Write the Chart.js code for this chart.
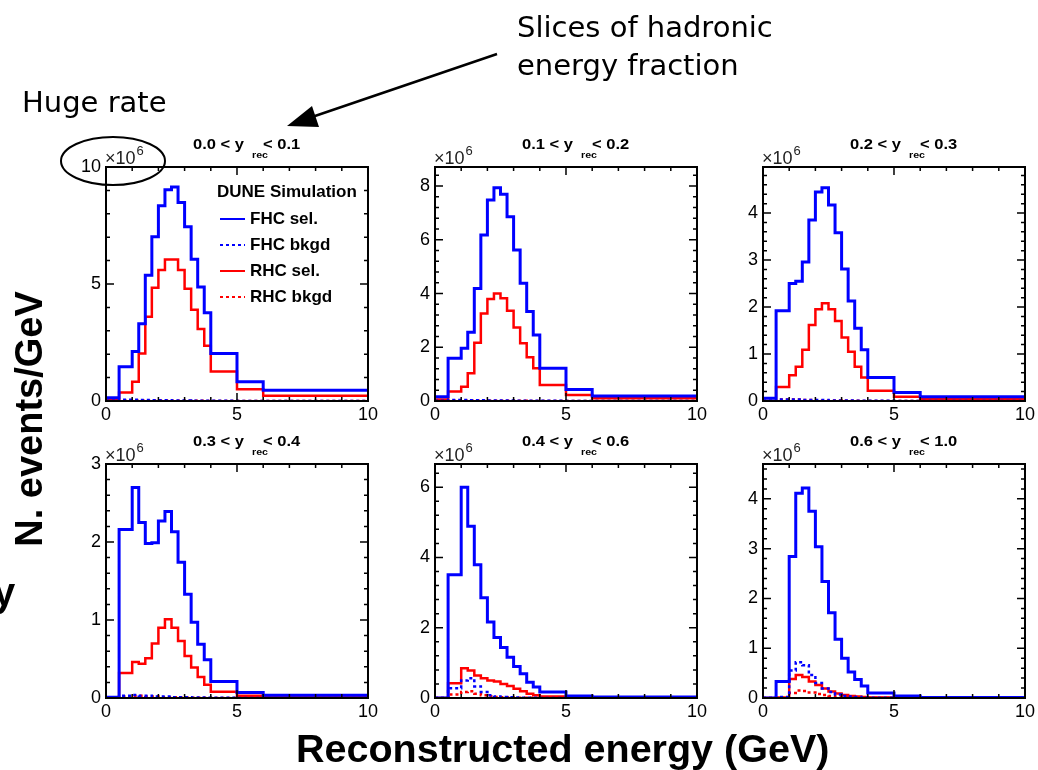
<!DOCTYPE html>
<html>
<head>
<meta charset="utf-8">
<script src="https://cdn.jsdelivr.net/npm/chart.js@4.4.0/dist/chart.umd.min.js"></script>
<style>
  html, body { margin: 0; padding: 0; background: #fff; overflow: hidden; }
  #page { position: relative; width: 1038px; height: 770px; }
  #page canvas { position: absolute; }
  #notes { position: absolute; left: 0; top: 0; pointer-events: none; }
</style>
</head>
<body>
<div id="page">
  <canvas id="c1"></canvas>
  <canvas id="c2"></canvas>
  <canvas id="c3"></canvas>
  <canvas id="c4"></canvas>
  <canvas id="c5"></canvas>
  <canvas id="c6"></canvas>
  <svg id="notes" width="1038" height="770">
    <text x="22" y="112" font-family="DejaVu Sans" font-size="29">Huge rate</text>
    <ellipse cx="113" cy="161" rx="52" ry="24" fill="none" stroke="#000" stroke-width="2"/>
    <text x="517" y="37" font-family="DejaVu Sans" font-size="29">Slices of hadronic</text>
    <text x="517" y="75" font-family="DejaVu Sans" font-size="29">energy fraction</text>
    <line x1="497" y1="54" x2="312" y2="117" stroke="#000" stroke-width="2.5"/>
    <polygon points="287,126 319,127 312,106" fill="#000"/>
    <text transform="translate(42,419) rotate(-90)" text-anchor="middle" font-family="Liberation Sans, Arial" font-weight="bold" font-size="38">N. events/GeV</text>
    <text x="-7" y="606" font-family="Liberation Sans, Arial" font-weight="bold" font-size="40">y</text>
    <text x="296" y="762" font-family="Liberation Sans, Arial" font-weight="bold" font-size="39.5">Reconstructed energy (GeV)</text>
  </svg>
</div>
<script>
// bin edges in reconstructed energy (GeV)
const binEdges = [0, 0.5, 1, 1.25, 1.5, 1.75, 2, 2.25, 2.5, 2.75, 3, 3.25, 3.5, 3.75, 4, 5, 6, 10];

// values are in units of 10^6 events/GeV, one per bin
// 0.0 < y_rec < 0.1
const fhcSel1  = [0.14, 1.46, 2.12, 3.3, 5.37, 7.02, 8.34, 9.03, 9.14, 8.48, 7.45, 6.06, 4.87, 3.77, 2.03, 0.82, 0.46];
const fhcBkgd1 = [0.01, 0.05, 0.05, 0.04, 0.04, 0.03, 0.03, 0.03, 0.02, 0.02, 0.02, 0.01, 0.01, 0.01, 0.01, 0.005, 0.002];
const rhcSel1  = [0.05, 0.36, 0.82, 2.03, 3.6, 4.84, 5.6, 6.05, 6.05, 5.6, 4.8, 3.9, 3.08, 2.36, 1.26, 0.5, 0.22];
const rhcBkgd1 = [0.005, 0.03, 0.03, 0.03, 0.02, 0.02, 0.02, 0.02, 0.01, 0.01, 0.01, 0.01, 0.01, 0.005, 0.003, 0.002, 0.001];

// 0.1 < y_rec < 0.2
const fhcSel2  = [0.16, 1.59, 1.96, 2.56, 4.19, 6.18, 7.48, 7.94, 7.7, 6.86, 5.62, 4.38, 3.33, 2.46, 1.22, 0.43, 0.19];
const fhcBkgd2 = [0.01, 0.04, 0.04, 0.03, 0.03, 0.03, 0.02, 0.02, 0.02, 0.02, 0.01, 0.01, 0.01, 0.01, 0.005, 0.002, 0.001];
const rhcSel2  = [0.06, 0.35, 0.53, 1.03, 2.17, 3.26, 3.8, 4.0, 3.82, 3.36, 2.74, 2.15, 1.63, 1.22, 0.6, 0.22, 0.1];
const rhcBkgd2 = [0.005, 0.02, 0.02, 0.02, 0.02, 0.01, 0.01, 0.01, 0.01, 0.01, 0.005, 0.005, 0.003, 0.002, 0.001, 0.001, 0];

// 0.2 < y_rec < 0.3
const fhcSel3  = [0.06, 1.92, 2.5, 2.55, 2.96, 3.85, 4.45, 4.54, 4.17, 3.58, 2.81, 2.13, 1.55, 1.09, 0.5, 0.18, 0.09];
const fhcBkgd3 = [0.005, 0.03, 0.03, 0.03, 0.02, 0.02, 0.02, 0.02, 0.01, 0.01, 0.01, 0.01, 0.005, 0.005, 0.003, 0.001, 0.001];
const rhcSel3  = [0, 0.3, 0.55, 0.73, 1.09, 1.62, 1.95, 2.08, 1.95, 1.7, 1.35, 1.05, 0.73, 0.5, 0.22, 0.09, 0.04];
const rhcBkgd3 = [0.005, 0.03, 0.03, 0.03, 0.02, 0.02, 0.01, 0.01, 0.01, 0.01, 0.005, 0.005, 0.003, 0.002, 0.001, 0.001, 0];

// 0.3 < y_rec < 0.4
const fhcSel4  = [0.01, 2.16, 2.7, 2.25, 1.98, 1.99, 2.27, 2.39, 2.13, 1.74, 1.33, 0.97, 0.69, 0.49, 0.21, 0.07, 0.035];
const fhcBkgd4 = [0.005, 0.03, 0.04, 0.03, 0.03, 0.02, 0.02, 0.02, 0.01, 0.01, 0.01, 0.005, 0.005, 0.003, 0.002, 0.001, 0];
const rhcSel4  = [0, 0.32, 0.46, 0.44, 0.51, 0.7, 0.9, 1.01, 0.9, 0.73, 0.54, 0.39, 0.27, 0.17, 0.08, 0.03, 0.01];
const rhcBkgd4 = [0, 0.02, 0.03, 0.03, 0.02, 0.02, 0.01, 0.01, 0.01, 0.005, 0.005, 0.003, 0.002, 0.001, 0.001, 0, 0];

// 0.4 < y_rec < 0.6
const fhcSel5  = [0, 3.51, 6.0, 4.89, 3.79, 2.85, 2.16, 1.72, 1.44, 1.16, 0.9, 0.69, 0.45, 0.31, 0.17, 0.06, 0.03];
const fhcBkgd5 = [0, 0.28, 0.5, 0.56, 0.33, 0.17, 0.08, 0.04, 0.03, 0.02, 0.015, 0.01, 0.008, 0.005, 0.003, 0.001, 0.001];
const rhcSel5  = [0, 0.42, 0.85, 0.78, 0.64, 0.56, 0.5, 0.47, 0.4, 0.34, 0.26, 0.19, 0.12, 0.08, 0.04, 0.02, 0.01];
const rhcBkgd5 = [0, 0.1, 0.17, 0.19, 0.12, 0.08, 0.05, 0.03, 0.02, 0.015, 0.01, 0.008, 0.005, 0.003, 0.002, 0.001, 0];

// 0.6 < y_rec < 1.0
const fhcSel6  = [0, 0.33, 2.84, 4.11, 4.22, 3.75, 3.04, 2.34, 1.71, 1.18, 0.8, 0.52, 0.37, 0.24, 0.1, 0.04, 0.01];
const fhcBkgd6 = [0, 0.02, 0.55, 0.72, 0.66, 0.46, 0.3, 0.19, 0.12, 0.07, 0.04, 0.03, 0.02, 0.01, 0.006, 0.002, 0.001];
const rhcSel6  = [0, 0.01, 0.38, 0.46, 0.42, 0.33, 0.26, 0.19, 0.13, 0.09, 0.06, 0.04, 0.03, 0.02, 0.01, 0.003, 0.001];
const rhcBkgd6 = [0, 0.005, 0.1, 0.15, 0.14, 0.11, 0.08, 0.06, 0.04, 0.03, 0.02, 0.015, 0.01, 0.005, 0.003, 0.001, 0];

const seriesLabels = ['FHC sel.', 'FHC bkgd', 'RHC sel.', 'RHC bkgd'];
const sliceLow  = ['0.0', '0.1', '0.2', '0.3', '0.4', '0.6'];
const sliceHigh = ['0.1', '0.2', '0.3', '0.4', '0.6', '1.0'];
const yMax   = [10, 8.71, 4.98, 3, 6.66, 4.7];
const yMajor = [5, 2, 1, 1, 2, 1];
const yMinor = [1, 0.4, 0.2, 0.2, 0.4, 0.2];

const panelSeries = [
  [fhcSel1, fhcBkgd1, rhcSel1, rhcBkgd1],
  [fhcSel2, fhcBkgd2, rhcSel2, rhcBkgd2],
  [fhcSel3, fhcBkgd3, rhcSel3, rhcBkgd3],
  [fhcSel4, fhcBkgd4, rhcSel4, rhcBkgd4],
  [fhcSel5, fhcBkgd5, rhcSel5, rhcBkgd5],
  [fhcSel6, fhcBkgd6, rhcSel6, rhcBkgd6],
];

const FONT = '"Liberation Sans", Arial, sans-serif';
const BLUE = 'rgb(0,0,255)';
const RED = 'rgb(255,0,0)';

// placement of each plot frame on the page
const colLeft = [106, 435, 763];
const rowTop = [167, 464];
const plotW = 265, plotH = 234;
const padL = 50, padT = 40, padR = 10, padB = 25;

// histogram -> step points (last edge repeats the last value)
function toSteps(vals) {
  const pts = vals.map((v, i) => ({ x: binEdges[i], y: v }));
  pts.push({ x: binEdges[binEdges.length - 1], y: vals[vals.length - 1] });
  return pts;
}

// ROOT style frame with inward ticks on all sides, title, x10^6 and legend
const rootFrame = {
  id: 'rootFrame',
  afterDatasetsDraw(chart, args, opts) {
    const { ctx, chartArea: a, scales: { x, y } } = chart;
    ctx.save();
    ctx.strokeStyle = '#000';
    ctx.lineWidth = 2;
    ctx.strokeRect(a.left, a.top, a.width, a.height);

    ctx.lineWidth = 1.5;
    ctx.beginPath();
    // x ticks: minor every 1 GeV, major every 5
    for (let i = 0; i <= 10; i++) {
      const px = x.getPixelForValue(i);
      const len = i % 5 === 0 ? 8 : 4;
      ctx.moveTo(px, a.bottom); ctx.lineTo(px, a.bottom - len);
      ctx.moveTo(px, a.top); ctx.lineTo(px, a.top + len);
    }
    const n = Math.floor(y.max / opts.minor + 1e-6);
    const every = Math.round(opts.major / opts.minor);
    for (let i = 0; i <= n; i++) {
      const py = y.getPixelForValue(i * opts.minor);
      const len = i % every === 0 ? 8 : 4;
      ctx.moveTo(a.left, py); ctx.lineTo(a.left + len, py);
      ctx.moveTo(a.right, py); ctx.lineTo(a.right - len, py);
    }
    ctx.stroke();

    // x10^6 exponent
    ctx.fillStyle = '#222';
    ctx.textBaseline = 'alphabetic';
    ctx.textAlign = 'left';
    ctx.font = '18px ' + FONT;
    ctx.fillText('\u00d710', a.left - 1, a.top - 3);
    const w = ctx.measureText('\u00d710').width;
    ctx.font = '13px ' + FONT;
    ctx.fillText('6', a.left - 1 + w + 1, a.top - 12);

    // title: lo < y_rec < hi
    ctx.fillStyle = '#000';
    const drawScaled = (txt, px, py, font) => {
      ctx.save();
      ctx.font = font;
      ctx.translate(px, py);
      ctx.scale(1.18, 1);
      ctx.fillText(txt, 0, 0);
      ctx.restore();
    };
    drawScaled(opts.lo + ' < y', a.left + 87, a.top - 18, 'bold 14px ' + FONT);
    drawScaled('rec', a.left + 146, a.top - 9, 'bold 9px ' + FONT);
    drawScaled('< ' + opts.hi, a.left + 157, a.top - 18, 'bold 14px ' + FONT);

    if (opts.legend) {
      ctx.font = 'bold 17px ' + FONT;
      ctx.textBaseline = 'middle';
      ctx.fillText('DUNE Simulation', a.left + 111, a.top + 25);
      chart.data.datasets.forEach((ds, i) => {
        const ly = a.top + 52 + i * 26;
        ctx.save();
        ctx.strokeStyle = ds.borderColor;
        ctx.lineWidth = 2;
        ctx.setLineDash(ds.borderDash || []);
        ctx.beginPath();
        ctx.moveTo(a.left + 114, ly);
        ctx.lineTo(a.left + 139, ly);
        ctx.stroke();
        ctx.restore();
        ctx.fillText(ds.label, a.left + 144, ly);
      });
    }
    ctx.restore();
  }
};

panelSeries.forEach((series, p) => {
  const canvas = document.getElementById('c' + (p + 1));
  const left = colLeft[p % 3] - padL;
  const top = rowTop[Math.floor(p / 3)] - padT;
  canvas.width = plotW + padL + padR;
  canvas.height = plotH + padT + padB;
  canvas.style.left = left + 'px';
  canvas.style.top = top + 'px';

  const styles = [
    { borderColor: BLUE, borderWidth: 3 },
    { borderColor: BLUE, borderWidth: 2.5, borderDash: [3, 3] },
    { borderColor: RED, borderWidth: 2.5 },
    { borderColor: RED, borderWidth: 2.5, borderDash: [3, 3] },
  ];

  new Chart(canvas.getContext('2d'), {
    type: 'line',
    data: {
      datasets: series.map((vals, i) => Object.assign({
        label: seriesLabels[i],
        data: toSteps(vals),
        stepped: 'before',
        pointRadius: 0,
        fill: false,
        tension: 0,
      }, styles[i]))
    },
    options: {
      responsive: false,
      animation: false,
      devicePixelRatio: 1,
      layout: { padding: { top: padT, right: padR, left: 0, bottom: 0 } },
      plugins: {
        legend: { display: false },
        tooltip: { enabled: false },
        rootFrame: {
          lo: sliceLow[p], hi: sliceHigh[p],
          major: yMajor[p], minor: yMinor[p],
          legend: p === 0,
        },
      },
      scales: {
        x: {
          type: 'linear', min: 0, max: 10,
          grid: { display: false, drawTicks: false },
          border: { display: false },
          ticks: { stepSize: 5, autoSkip: false, maxRotation: 0, padding: 3, color: '#000', font: { family: FONT, size: 18 } },
          afterFit(s) { s.height = padB; },
        },
        y: {
          type: 'linear', min: 0, max: yMax[p],
          grid: { display: false, drawTicks: false },
          border: { display: false },
          ticks: {
            stepSize: yMajor[p], includeBounds: false, autoSkip: false, padding: 5,
            color: '#000', font: { family: FONT, size: 18 },
            callback: v => String(Math.round(v * 10) / 10),
          },
          afterFit(s) { s.width = padL; },
        },
      },
    },
    plugins: [rootFrame],
  });
});
</script>
</body>
</html>
